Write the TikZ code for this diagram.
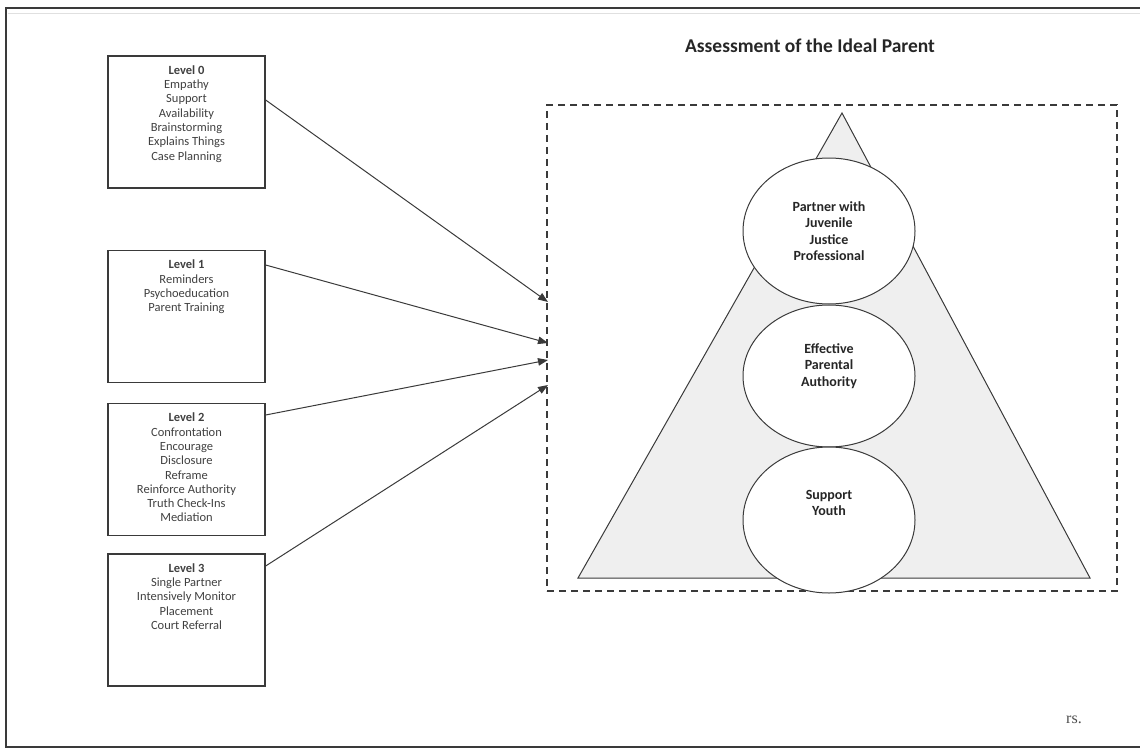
\documentclass[tikz,border=0pt]{standalone}
\usepackage{fontspec}
\setmainfont{Carlito}
\newfontfamily\capfont{Liberation Serif}
\usetikzlibrary{arrows.meta,shapes.geometric}
\definecolor{ink}{HTML}{3A3A3A}
\definecolor{tri}{HTML}{EFEFEF}
\begin{document}
\begin{tikzpicture}[x=1pt,y=-1pt,
  lvlbox/.style={draw=ink,line width=1.3pt,minimum width=157pt,minimum height=132pt,inner sep=0pt},
  lvltext/.style={anchor=north,align=center,inner sep=0pt,text=black!75,font=\fontsize{12.5}{14.3}\selectfont},
  oval/.style={ellipse,draw=ink,line width=1pt,fill=white,minimum width=172pt,minimum height=146pt,inner sep=0pt},
  ovaltext/.style={align=center,text=black!85,font=\bfseries\fontsize{14}{16.5}\selectfont},
  link/.style={draw=ink,line width=1pt,-{Triangle[length=10pt,width=7.5pt]}}]
\useasboundingbox (0,0) rectangle (1140,749);
% page frame (top, left and bottom rules)
\draw[line width=1.4pt,ink] (1140,8) -- (6,8) -- (6,747) -- (1140,747);
\draw[line width=0.6pt,black!12] (8,13) -- (1140,13);

% intervention levels
\node[lvlbox] (l0) at (186.5,122) {};
\node[lvlbox] (l1) at (186.5,316.5) {};
\node[lvlbox] (l2) at (186.5,469.5) {};
\node[lvlbox] (l3) at (186.5,620) {};
\node[lvltext] (t0) at ([yshift=-10pt]l0.north) {\textbf{Level 0}\\Empathy\\Support\\Availability\\Brainstorming\\Explains Things\\Case Planning};
\node[lvltext] (t1) at ([yshift=-10pt]l1.north) {\textbf{Level 1}\\Reminders\\Psychoeducation\\Parent Training};
\node[lvltext] (t2) at ([yshift=-10pt]l2.north) {\textbf{Level 2}\\Confrontation\\Encourage\\Disclosure\\Reframe\\Reinforce Authority\\Truth Check-Ins\\Mediation};
\node[lvltext] (t3) at ([yshift=-10pt]l3.north) {\textbf{Level 3}\\Single Partner\\Intensively Monitor\\Placement\\Court Referral};

% assessment panel
\node[font=\bfseries\fontsize{19.5}{22}\selectfont,text=black!85] (title) at (810,46) {Assessment of the Ideal Parent};
\node[draw=ink,dashed,dash pattern=on 7pt off 5pt,line width=1.2pt,minimum width=570pt,minimum height=486pt,inner sep=0pt] (panel) at (832,348) {};
\coordinate (apex) at (842,113);
\coordinate (bl) at (578,578);
\coordinate (br) at (1090,578);
\draw[draw=ink,fill=tri,line width=1pt] (apex) -- (br) -- (bl) -- cycle;
\node[oval] (e1) at (829,231) {};
\node[oval,minimum height=142pt] (e2) at (829,376) {};
\node[oval] (e3) at (829,520) {};
\node[ovaltext] at (829,231) {Partner with\\Juvenile\\Justice\\Professional};
\node[ovaltext] at (829,366) {Effective\\Parental\\Authority};
\node[ovaltext] at (829,503) {Support\\Youth};

% links from levels into the panel
\coordinate (a0) at (548,302);
\coordinate (a1) at (548,343);
\coordinate (a2) at (548,360);
\coordinate (a3) at (548,385);
\draw[link] ([yshift=22pt]l0.east) -- (a0);
\draw[link] ([yshift=51.5pt]l1.east) -- (a1);
\draw[link] ([yshift=54.5pt]l2.east) -- (a2);
\draw[link] ([yshift=54pt]l3.east) -- (a3);

\node[font=\capfont\fontsize{16}{18}\selectfont,text=black!70] (cap) at (1074,720) {rs.};
\end{tikzpicture}
\end{document}
